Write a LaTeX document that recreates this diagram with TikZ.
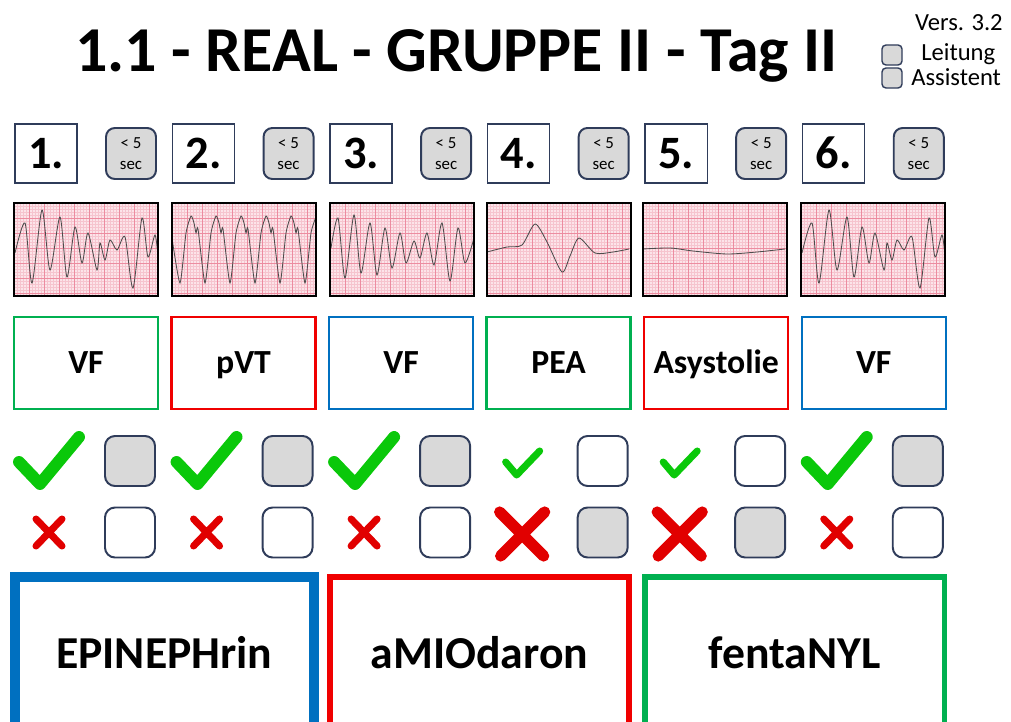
\documentclass[tikz,border=0pt]{standalone}
\usepackage{fontspec}
\setmainfont{Carlito}
\usepackage{xcolor}
\definecolor{okgreen}{RGB}{0,176,80}
\definecolor{alarm}{RGB}{240,0,0}
\definecolor{ecgblue}{RGB}{0,112,192}
\definecolor{tickgreen}{RGB}{10,200,10}
\definecolor{crossred}{RGB}{225,0,0}
\definecolor{boxgray}{RGB}{217,217,217}
\definecolor{boxline}{RGB}{47,60,90}
\definecolor{ecgpaper}{RGB}{252,228,233}
\definecolor{ecgfine}{RGB}{246,196,206}
\definecolor{ecgbold}{RGB}{236,140,160}

\begin{document}
\begin{tikzpicture}[x=0.025cm,y=-0.025cm,
  numbox/.style={draw=boxline,line width=1pt,minimum width=1.55cm,minimum height=1.475cm,
    inner sep=0pt,text height=21pt,text depth=0pt,font=\bfseries\fontsize{33}{33}\selectfont},
  secbox/.style={draw=boxline,fill=boxgray,line width=1.4pt,rounded corners=0.22cm,
    minimum width=1.25cm,minimum height=1.275cm,inner sep=0pt,align=center,
    font=\fontsize{12}{15}\selectfont},
  rhybox/.style={line width=1.7pt,minimum width=3.6cm,minimum height=2.3cm,inner sep=0pt,
    text height=15.5pt,text depth=0pt,font=\bfseries\fontsize{24}{24}\selectfont},
  chkbox/.style={draw=boxline,line width=1.4pt,rounded corners=0.25cm,minimum size=1.25cm,inner sep=0pt},
  drugbox/.style={minimum width=7.48cm,minimum height=3.85cm,inner sep=0pt,
    text height=21pt,text depth=0pt,font=\bfseries\fontsize{32.5}{32.5}\selectfont},
  legtxt/.style={font=\fontsize{17.5}{17.5}\selectfont,inner sep=0pt},
  legbox/.style={draw=boxline,fill=boxgray,line width=1pt,rounded corners=0.1cm,minimum size=0.5cm,inner sep=0pt},
  strip/.style={draw=black,line width=1.4pt},
  wave/.style={draw=black!70,line width=0.6pt,smooth,tension=0.45},
  tick/.style={draw=tickgreen,line cap=round,line join=round},
  cross/.style={draw=crossred,line cap=round}]
\useasboundingbox (0,0) rectangle (1011,722);
\clip (0,0) rectangle (1011,722);
% header
\node[anchor=base,inner sep=0pt,font=\bfseries\fontsize{45.5}{45.5}\selectfont] (title) at (456.5,72)
  {1.1 - REAL - GRUPPE II - Tag II};
\node[legtxt,anchor=base east] (vers) at (1003,31) {Vers. 3.2};
\node[legbox] (lead) at (892,55) {};
\node[legtxt,anchor=base west] (leadtxt) at (921,61) {Leitung};
\node[legbox] (assist) at (892,78) {};
\node[legtxt,anchor=base west] (assisttxt) at (911,86) {Assistent};
% ecg paper, one strip per round
\foreach \sx in {14,172,330,487,643,801} {
  \begin{scope}[shift={(\sx,203)}]
    \fill[ecgpaper] (0,0) rectangle (144,93);
    \foreach \gx in {3,6,...,141} \draw[ecgfine,line width=0.25pt] (\gx,0) -- (\gx,93);
    \foreach \gy in {3,6,...,90} \draw[ecgfine,line width=0.25pt] (0,\gy) -- (144,\gy);
    \foreach \gx in {15,30,...,135} \draw[ecgbold,line width=0.45pt] (\gx,0) -- (\gx,93);
    \foreach \gy in {15,30,...,90} \draw[ecgbold,line width=0.45pt] (0,\gy) -- (144,\gy);
  \end{scope}
}
% rhythms
\begin{scope}[shift={(14,203)}]
  \draw[wave] plot coordinates {(1,50) (11,20) (18,80) (28,7) (36,67) (46,14) (53,74) (61,24)
    (68,60) (74,30) (83,67) (86,40) (91,57) (96,37) (103,47) (111,34) (119,85) (128,15)
    (134,54) (141,32) (144,54)};
\end{scope}
\begin{scope}[shift={(172,203)}]
  \draw[wave,tension=0.35] plot coordinates {(0,35) (8,80) (14,30) (19,13) (22,20) (24,30) (26,26)
    (33,80) (39,30) (44,13) (47,20) (49,30) (51,26) (58,80) (64,30) (69,13) (72,20) (74,30) (76,26)
    (83,80) (89,30) (94,13) (97,20) (99,30) (101,26) (108,80) (114,30) (119,13) (122,20) (124,30)
    (126,26) (133,80) (139,30) (144,14)};
\end{scope}
\begin{scope}[shift={(330,203)}]
  \draw[wave] plot coordinates {(1,45) (8,15) (15,75) (24,12) (31,70) (40,20) (47,72) (55,25)
    (62,65) (70,30) (76,60) (84,38) (90,55) (97,30) (104,62) (112,20) (120,78) (128,25)
    (135,60) (144,35)};
\end{scope}
\begin{scope}[shift={(487,203)}]
  \draw[wave] plot coordinates {(0,49) (20,44) (35,42) (48,21) (60,39) (75,69) (83,53) (92,35)
    (108,50) (126,49) (142,46)};
\end{scope}
\begin{scope}[shift={(643,203)}]
  \draw[wave] plot coordinates {(0,46) (27,45) (50,48) (84,51) (114,49) (142,46)};
\end{scope}
\begin{scope}[shift={(801,203)}]
  \draw[wave] plot coordinates {(1,50) (11,20) (18,80) (28,7) (36,67) (46,14) (53,74) (61,24)
    (68,60) (74,30) (83,67) (86,40) (91,57) (96,37) (103,47) (111,34) (119,85) (128,15)
    (134,54) (141,32) (144,54)};
\end{scope}
\foreach \sx in {14,172,330,487,643,801} \draw[strip] (\sx,203) rectangle ++(144,93);
% rounds: number, timer, rhythm, shock yes / no
\foreach \i/\rhy/\rcol/\okfill/\nofill/\okbig in {1/VF/okgreen/boxgray/white/1,
    2/pVT/alarm/boxgray/white/1, 3/VF/ecgblue/boxgray/white/1, 4/PEA/okgreen/white/boxgray/0,
    5/Asystolie/alarm/white/boxgray/0, 6/VF/ecgblue/boxgray/white/1} {
  \pgfmathsetmacro{\cx}{157.55*(\i-1)}
  \begin{scope}[shift={(\cx,0)}]
    \node[numbox] (num\i) at (46,153.5) {\i.};
    \node[secbox] (sec\i) at (131,153.5) {< 5\\sec};
    \node[rhybox,draw=\rcol] (rhy\i) at (86,363) {\rhy};
    \node[chkbox,fill=\okfill] (ok\i) at (130,461) {};
    \node[chkbox,fill=\nofill] (no\i) at (130,532.5) {};
    \ifnum\okbig=1
      \draw[tick,line width=8.5pt] (19,462) -- (40,484) -- (79,437);
      \draw[cross,line width=5pt] (36,519) -- (62,546) (62,519) -- (36,546);
    \else
      \draw[tick,line width=5pt] (33,462) -- (44,475) -- (67,451);
      \draw[cross,line width=8pt] (27,512) -- (71,556) (72,512) -- (28,556);
    \fi
  \end{scope}
}
% drugs
\node[drugbox,draw=ecgblue,line width=7pt] (epi) at (164.25,654) {EPINEPHrin};
\node[drugbox,draw=alarm,line width=4.3pt] (amio) at (479.5,654) {aMIOdaron};
\node[drugbox,draw=okgreen,line width=4pt] (fenta) at (794.75,654) {fentaNYL};
\end{tikzpicture}
\end{document}
